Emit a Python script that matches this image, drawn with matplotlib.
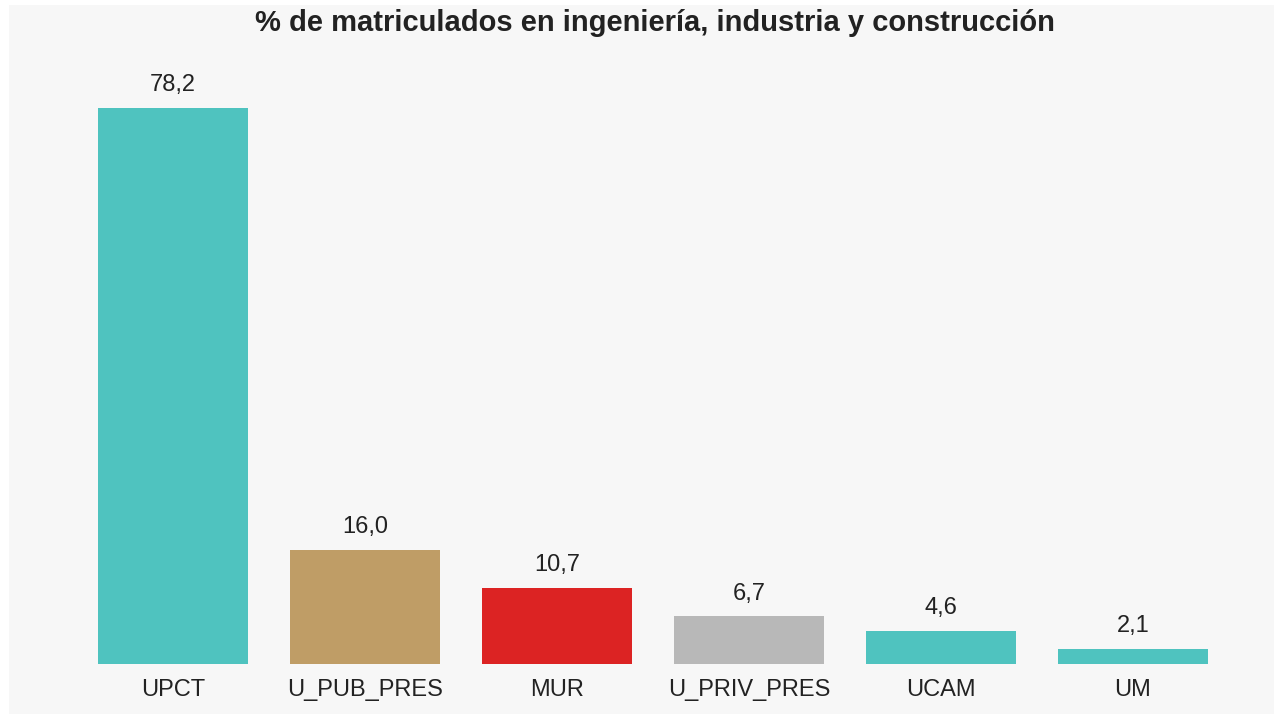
import matplotlib
matplotlib.use("Agg")
import matplotlib.pyplot as plt
from matplotlib.patches import Rectangle

categories = ["UPCT", "U_PUB_PRES", "MUR", "U_PRIV_PRES", "UCAM", "UM"]
values = [78.2, 16.0, 10.7, 6.7, 4.6, 2.1]
colors = ["#4fc3bf", "#bf9d66", "#dc2323", "#b8b8b8", "#4fc3bf", "#4fc3bf"]
title = "% de matriculados en ingeniería, industria y construcción"

plt.rcParams['font.family'] = ['Liberation Sans', 'DejaVu Sans']

W, H = 1282, 715
fig = plt.figure(figsize=(W / 100, H / 100), dpi=100, facecolor="white")
fig.patches.append(Rectangle((9 / W, 1 - 714 / H), (1274 - 9) / W, (714 - 5) / H,
                             transform=fig.transFigure, facecolor="#f7f7f7",
                             edgecolor="none", zorder=-10))

left = 77 / W
right = 1229 / W
bottom = 1 - 664 / H
ymax = 90
top_px = 664 - ymax * (556 / 78.2)
ax = fig.add_axes([left, bottom, right - left, (664 - top_px) / H])
ax.set_facecolor("none")

x = range(len(categories))
bars = ax.bar(x, values, width=150 / 192, color=colors)
ax.set_xlim(-0.5, len(categories) - 0.5)
ax.set_ylim(0, ymax)

for xi, v in zip(x, values):
    ax.annotate(f"{v:.1f}".replace(".", ","), (xi, v), xytext=(0, 8.5),
                textcoords="offset points", ha="center", va="bottom",
                fontsize=17, color="#222222")

ax.set_xticks(list(x))
ax.set_xticklabels(categories, fontsize=17, color="#222222")
ax.tick_params(axis="x", length=0, pad=10.7)
ax.set_yticks([])
for s in ax.spines.values():
    s.set_visible(False)

fig.text(655 / W, 1 - 23 / H, title, ha="center", va="center",
         fontsize=21, fontweight="bold", color="#222222")

fig.savefig("out.png", dpi=100, facecolor="white")
